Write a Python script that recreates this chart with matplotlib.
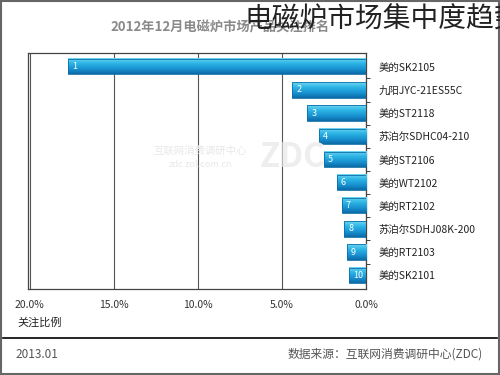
import numpy as np
import matplotlib.pyplot as plt
from matplotlib.colors import LinearSegmentedColormap
from matplotlib.patches import Rectangle
from matplotlib.lines import Line2D

plt.rcParams['font.family'] = ['Noto Sans CJK SC', 'DejaVu Sans']

# data
products = ["美的SK2105", "九阳JYC-21ES55C", "美的ST2118", "苏泊尔SDHC04-210",
            "美的ST2106", "美的WT2102", "美的RT2102", "苏泊尔SDHJ08K-200",
            "美的RT2103", "美的SK2101"]
share = [17.7, 4.4, 3.5, 2.8, 2.5, 1.75, 1.45, 1.3, 1.15, 1.0]
ranks = [str(i + 1) for i in range(len(products))]
xticks = [0, 5, 10, 15, 20]

fig = plt.figure(figsize=(5, 3.75), dpi=100)
ax = fig.add_axes([0.056, 0.229, 0.676, 0.630])

# blue gradient for bars
cmap = LinearSegmentedColormap.from_list("bar", ["#0b6aa8", "#1a93d2", "#2bb4e4", "#6fd6f2"])
grad = np.linspace(0, 1, 64).reshape(-1, 1)
h = 0.66
for i, v in enumerate(share):
    ax.imshow(grad, extent=[0, v, i + h / 2, i - h / 2], cmap=cmap, aspect='auto',
              origin='lower', zorder=3)
    ax.add_patch(Rectangle((0, i - h / 2), v, h, fill=False, ec="#0d6ea8", lw=0.6, zorder=4))
    ax.annotate(ranks[i], (v, i), xytext=(3, 0), textcoords='offset points',
                ha='left', va='center', color='white', fontsize=6.5, zorder=5)

ax.set_xlim(20.1, 0)
ax.set_ylim(len(products) - 0.4, -0.6)
ax.set_xticks(xticks)
ax.set_xticklabels([f"{t:.1f}%" for t in xticks], fontsize=7.5, color="#333333")
ax.tick_params(axis='x', length=0, pad=8)
ax.xaxis.grid(True, color="#555555", lw=0.8)
ax.set_axisbelow(True)

ax.yaxis.tick_right()
ax.set_yticks(range(len(products)))
ax.set_yticklabels(products, fontsize=7.5, color="#222222")
ax.set_yticks(np.arange(len(products) - 1) + 0.5, minor=True)
ax.tick_params(axis='y', which='major', length=0, pad=9)
ax.tick_params(axis='y', which='minor', length=3, color='#222222', direction='out')
for s in ax.spines.values():
    s.set_color("#444444")
    s.set_linewidth(0.9)

# watermark
fig.text(0.40, 0.59, "互联网消费调研中心", fontsize=7.5, color="#e8e8e8", ha='center', zorder=0)
fig.text(0.40, 0.555, "zdc.zol.com.cn", fontsize=6.5, color="#e8e8e8", ha='center', zorder=0)
fig.text(0.585, 0.555, "ZDC", fontsize=24, color="#eeeeee", ha='center', fontweight='bold', zorder=0)

# titles and notes
fig.text(0.44, 0.928, "2012年12月电磁炉市场产品关注排名", fontsize=9.5, color="#8a8a8a",
         ha='center', va='center', fontweight='bold')
fig.text(0.49, 0.948, "电磁炉市场集中度趋势", fontsize=20, color="#222222",
         ha='left', va='center')
fig.text(0.034, 0.14, "关注比例", fontsize=8, color="#222222", ha='left', va='center')
fig.text(0.03, 0.055, "2013.01", fontsize=8.5, color="#555555", ha='left', va='center')
fig.text(0.965, 0.055, "数据来源：互联网消费调研中心(ZDC)", fontsize=8.5, color="#555555",
         ha='right', va='center')
fig.add_artist(Line2D([0.006, 0.994], [0.099, 0.099], color='black', lw=1.2))
fig.add_artist(Rectangle((0.002, 0.003), 0.996, 0.994, fill=False, ec='#666666', lw=1.5))

fig.savefig("out.png", dpi=100)
